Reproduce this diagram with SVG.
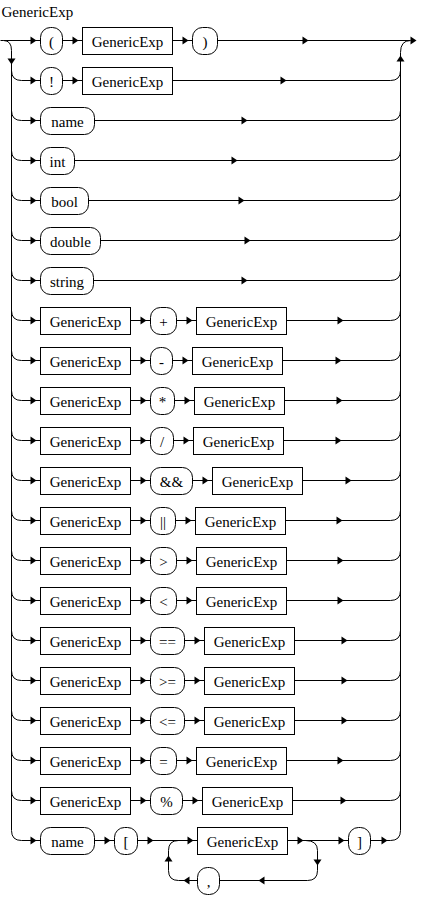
<svg xmlns="http://www.w3.org/2000/svg" width="434" height="922" viewBox="0 0 434 922">
<style>
.l{fill:none;stroke:#000;stroke-width:1}
.b{fill:#fff;stroke:#000;stroke-width:1}
.t{fill:#fff;stroke:#000;stroke-width:1}
.tx{font-family:'Liberation Serif','Times New Roman','DejaVu Serif',serif;font-size:15px;fill:#000;text-anchor:middle}
.ttl{text-anchor:start}
.a{fill:#000}
</style>
<defs>
<path id="ar" class="a" d="M-6,-4 L0,0 L-6,4 Z"/>
</defs>
<rect x="0" y="0" width="434" height="922" fill="#fff"/>
<g transform="translate(0.5,0.5)">
<g id="connectors">
<path class="l" d="M0,40 H3 Q11,40 11,50 V830"/>
<path class="l" d="M400,830 V52 Q400,40 410,40"/>
<path class="l" d="M3,40 H40 M62,40 H82 M172,40 H192 M217,40 H410"/>
<path class="l" d="M11,70 Q11,80 21,80 H40 M62,80 H82 M172,80 H390 Q400,80 400,70"/>
<path class="l" d="M11,110 Q11,120 21,120 H40 M94,120 H390 Q400,120 400,110"/>
<path class="l" d="M11,150 Q11,160 21,160 H40 M74,160 H390 Q400,160 400,150"/>
<path class="l" d="M11,190 Q11,200 21,200 H40 M88,200 H390 Q400,200 400,190"/>
<path class="l" d="M11,230 Q11,240 21,240 H40 M100,240 H390 Q400,240 400,230"/>
<path class="l" d="M11,270 Q11,280 21,280 H40 M93,280 H390 Q400,280 400,270"/>
<path class="l" d="M11,310 Q11,320 21,320 H40 M130,320 H150 M176,320 H196 M286,320 H390 Q400,320 400,310"/>
<path class="l" d="M11,350 Q11,360 21,360 H40 M130,360 H150 M172,360 H192 M282,360 H390 Q400,360 400,350"/>
<path class="l" d="M11,390 Q11,400 21,400 H40 M130,400 H150 M174,400 H194 M284,400 H390 Q400,400 400,390"/>
<path class="l" d="M11,430 Q11,440 21,440 H40 M130,440 H150 M173,440 H193 M283,440 H390 Q400,440 400,430"/>
<path class="l" d="M11,470 Q11,480 21,480 H40 M130,480 H150 M192,480 H212 M302,480 H390 Q400,480 400,470"/>
<path class="l" d="M11,510 Q11,520 21,520 H40 M130,520 H150 M175,520 H195 M285,520 H390 Q400,520 400,510"/>
<path class="l" d="M11,550 Q11,560 21,560 H40 M130,560 H150 M176,560 H196 M286,560 H390 Q400,560 400,550"/>
<path class="l" d="M11,590 Q11,600 21,600 H40 M130,600 H150 M176,600 H196 M286,600 H390 Q400,600 400,590"/>
<path class="l" d="M11,630 Q11,640 21,640 H40 M130,640 H150 M184,640 H204 M294,640 H390 Q400,640 400,630"/>
<path class="l" d="M11,670 Q11,680 21,680 H40 M130,680 H150 M184,680 H204 M294,680 H390 Q400,680 400,670"/>
<path class="l" d="M11,710 Q11,720 21,720 H40 M130,720 H150 M184,720 H204 M294,720 H390 Q400,720 400,710"/>
<path class="l" d="M11,750 Q11,760 21,760 H40 M130,760 H150 M176,760 H196 M286,760 H390 Q400,760 400,750"/>
<path class="l" d="M11,790 Q11,800 21,800 H40 M130,800 H150 M182,800 H202 M292,800 H390 Q400,800 400,790"/>
<path class="l" d="M11,830 Q11,840 21,840 H40 M94,840 H114 M137,840 H197 M287,840 H348 M370,840 H390 Q400,840 400,830"/>
<path class="l" d="M305,840 Q317,840 317,850 V870 Q317,880 307,880 H219 M197,880 H178 Q168,880 168,870 V850 Q168,840 178,840"/>
<use href="#ar" transform="translate(11,64) rotate(90)"/>
<use href="#ar" transform="translate(400,55) rotate(-90)"/>
<use href="#ar" x="36" y="40"/><use href="#ar" x="78" y="40"/><use href="#ar" x="188" y="40"/><use href="#ar" x="308" y="40"/><use href="#ar" x="416" y="40"/>
<use href="#ar" x="36" y="80"/><use href="#ar" x="78" y="80"/><use href="#ar" x="286" y="80"/>
<use href="#ar" x="36" y="120"/><use href="#ar" x="247" y="120"/>
<use href="#ar" x="36" y="160"/><use href="#ar" x="237" y="160"/>
<use href="#ar" x="36" y="200"/><use href="#ar" x="244" y="200"/>
<use href="#ar" x="36" y="240"/><use href="#ar" x="250" y="240"/>
<use href="#ar" x="36" y="280"/><use href="#ar" x="247" y="280"/>
<use href="#ar" x="36" y="320"/><use href="#ar" x="146" y="320"/><use href="#ar" x="192" y="320"/><use href="#ar" x="343" y="320"/>
<use href="#ar" x="36" y="360"/><use href="#ar" x="146" y="360"/><use href="#ar" x="188" y="360"/><use href="#ar" x="341" y="360"/>
<use href="#ar" x="36" y="400"/><use href="#ar" x="146" y="400"/><use href="#ar" x="190" y="400"/><use href="#ar" x="342" y="400"/>
<use href="#ar" x="36" y="440"/><use href="#ar" x="146" y="440"/><use href="#ar" x="189" y="440"/><use href="#ar" x="341" y="440"/>
<use href="#ar" x="36" y="480"/><use href="#ar" x="146" y="480"/><use href="#ar" x="208" y="480"/><use href="#ar" x="351" y="480"/>
<use href="#ar" x="36" y="520"/><use href="#ar" x="146" y="520"/><use href="#ar" x="191" y="520"/><use href="#ar" x="342" y="520"/>
<use href="#ar" x="36" y="560"/><use href="#ar" x="146" y="560"/><use href="#ar" x="192" y="560"/><use href="#ar" x="343" y="560"/>
<use href="#ar" x="36" y="600"/><use href="#ar" x="146" y="600"/><use href="#ar" x="192" y="600"/><use href="#ar" x="343" y="600"/>
<use href="#ar" x="36" y="640"/><use href="#ar" x="146" y="640"/><use href="#ar" x="200" y="640"/><use href="#ar" x="347" y="640"/>
<use href="#ar" x="36" y="680"/><use href="#ar" x="146" y="680"/><use href="#ar" x="200" y="680"/><use href="#ar" x="347" y="680"/>
<use href="#ar" x="36" y="720"/><use href="#ar" x="146" y="720"/><use href="#ar" x="200" y="720"/><use href="#ar" x="347" y="720"/>
<use href="#ar" x="36" y="760"/><use href="#ar" x="146" y="760"/><use href="#ar" x="192" y="760"/><use href="#ar" x="343" y="760"/>
<use href="#ar" x="36" y="800"/><use href="#ar" x="146" y="800"/><use href="#ar" x="198" y="800"/><use href="#ar" x="346" y="800"/>
<use href="#ar" x="36" y="840"/><use href="#ar" x="110" y="840"/><use href="#ar" x="153" y="840"/><use href="#ar" x="193" y="840"/><use href="#ar" x="303" y="840"/><use href="#ar" x="344" y="840"/><use href="#ar" x="387" y="840"/>
<use href="#ar" transform="translate(317,865) rotate(90)"/>
<use href="#ar" transform="translate(258,880) rotate(180)"/>
<use href="#ar" transform="translate(183,880) rotate(180)"/>
<use href="#ar" transform="translate(168,855) rotate(-90)"/>
</g>
<g id="nodes" font-family="'Liberation Serif', 'Times New Roman', 'DejaVu Serif', serif" font-size="15">
<text class="tx ttl" x="1" y="16">GenericExp</text>
<g id="r1t1"><rect class="t" x="40" y="27" width="22" height="27" rx="10"/><text class="tx" x="51" y="46">(</text></g>
<g id="r1b1"><rect class="b" x="82" y="27" width="90" height="27"/><text class="tx" x="127" y="46">GenericExp</text></g>
<g id="r1t2"><rect class="t" x="192" y="27" width="25" height="27" rx="10"/><text class="tx" x="204.5" y="46">)</text></g>
<g id="r2t1"><rect class="t" x="40" y="67" width="22" height="27" rx="10"/><text class="tx" x="51" y="86">!</text></g>
<g id="r2b1"><rect class="b" x="82" y="67" width="90" height="27"/><text class="tx" x="127" y="86">GenericExp</text></g>
<g id="r3t1"><rect class="t" x="40" y="107" width="54" height="27" rx="10"/><text class="tx" x="67" y="126">name</text></g>
<g id="r4t1"><rect class="t" x="40" y="147" width="34" height="27" rx="10"/><text class="tx" x="57" y="166">int</text></g>
<g id="r5t1"><rect class="t" x="40" y="187" width="48" height="27" rx="10"/><text class="tx" x="64" y="206">bool</text></g>
<g id="r6t1"><rect class="t" x="40" y="227" width="60" height="27" rx="10"/><text class="tx" x="70" y="246">double</text></g>
<g id="r7t1"><rect class="t" x="40" y="267" width="53" height="27" rx="10"/><text class="tx" x="66.5" y="286">string</text></g>
<g id="r8b1"><rect class="b" x="40" y="307" width="90" height="27"/><text class="tx" x="85" y="326">GenericExp</text></g>
<g id="r8t1"><rect class="t" x="150" y="307" width="26" height="27" rx="10"/><text class="tx" x="163" y="326">+</text></g>
<g id="r8b2"><rect class="b" x="196" y="307" width="90" height="27"/><text class="tx" x="241" y="326">GenericExp</text></g>
<g id="r9b1"><rect class="b" x="40" y="347" width="90" height="27"/><text class="tx" x="85" y="366">GenericExp</text></g>
<g id="r9t1"><rect class="t" x="150" y="347" width="22" height="27" rx="10"/><text class="tx" x="161" y="366">-</text></g>
<g id="r9b2"><rect class="b" x="192" y="347" width="90" height="27"/><text class="tx" x="237" y="366">GenericExp</text></g>
<g id="r10b1"><rect class="b" x="40" y="387" width="90" height="27"/><text class="tx" x="85" y="406">GenericExp</text></g>
<g id="r10t1"><rect class="t" x="150" y="387" width="24" height="27" rx="10"/><text class="tx" x="162" y="406">*</text></g>
<g id="r10b2"><rect class="b" x="194" y="387" width="90" height="27"/><text class="tx" x="239" y="406">GenericExp</text></g>
<g id="r11b1"><rect class="b" x="40" y="427" width="90" height="27"/><text class="tx" x="85" y="446">GenericExp</text></g>
<g id="r11t1"><rect class="t" x="150" y="427" width="23" height="27" rx="10"/><text class="tx" x="161.5" y="446">/</text></g>
<g id="r11b2"><rect class="b" x="193" y="427" width="90" height="27"/><text class="tx" x="238" y="446">GenericExp</text></g>
<g id="r12b1"><rect class="b" x="40" y="467" width="90" height="27"/><text class="tx" x="85" y="486">GenericExp</text></g>
<g id="r12t1"><rect class="t" x="150" y="467" width="42" height="27" rx="10"/><text class="tx" x="171" y="486">&amp;&amp;</text></g>
<g id="r12b2"><rect class="b" x="212" y="467" width="90" height="27"/><text class="tx" x="257" y="486">GenericExp</text></g>
<g id="r13b1"><rect class="b" x="40" y="507" width="90" height="27"/><text class="tx" x="85" y="526">GenericExp</text></g>
<g id="r13t1"><rect class="t" x="150" y="507" width="25" height="27" rx="10"/><text class="tx" x="162.5" y="526">||</text></g>
<g id="r13b2"><rect class="b" x="195" y="507" width="90" height="27"/><text class="tx" x="240" y="526">GenericExp</text></g>
<g id="r14b1"><rect class="b" x="40" y="547" width="90" height="27"/><text class="tx" x="85" y="566">GenericExp</text></g>
<g id="r14t1"><rect class="t" x="150" y="547" width="26" height="27" rx="10"/><text class="tx" x="163" y="566">&gt;</text></g>
<g id="r14b2"><rect class="b" x="196" y="547" width="90" height="27"/><text class="tx" x="241" y="566">GenericExp</text></g>
<g id="r15b1"><rect class="b" x="40" y="587" width="90" height="27"/><text class="tx" x="85" y="606">GenericExp</text></g>
<g id="r15t1"><rect class="t" x="150" y="587" width="26" height="27" rx="10"/><text class="tx" x="163" y="606">&lt;</text></g>
<g id="r15b2"><rect class="b" x="196" y="587" width="90" height="27"/><text class="tx" x="241" y="606">GenericExp</text></g>
<g id="r16b1"><rect class="b" x="40" y="627" width="90" height="27"/><text class="tx" x="85" y="646">GenericExp</text></g>
<g id="r16t1"><rect class="t" x="150" y="627" width="34" height="27" rx="10"/><text class="tx" x="167" y="646">==</text></g>
<g id="r16b2"><rect class="b" x="204" y="627" width="90" height="27"/><text class="tx" x="249" y="646">GenericExp</text></g>
<g id="r17b1"><rect class="b" x="40" y="667" width="90" height="27"/><text class="tx" x="85" y="686">GenericExp</text></g>
<g id="r17t1"><rect class="t" x="150" y="667" width="34" height="27" rx="10"/><text class="tx" x="167" y="686">&gt;=</text></g>
<g id="r17b2"><rect class="b" x="204" y="667" width="90" height="27"/><text class="tx" x="249" y="686">GenericExp</text></g>
<g id="r18b1"><rect class="b" x="40" y="707" width="90" height="27"/><text class="tx" x="85" y="726">GenericExp</text></g>
<g id="r18t1"><rect class="t" x="150" y="707" width="34" height="27" rx="10"/><text class="tx" x="167" y="726">&lt;=</text></g>
<g id="r18b2"><rect class="b" x="204" y="707" width="90" height="27"/><text class="tx" x="249" y="726">GenericExp</text></g>
<g id="r19b1"><rect class="b" x="40" y="747" width="90" height="27"/><text class="tx" x="85" y="766">GenericExp</text></g>
<g id="r19t1"><rect class="t" x="150" y="747" width="26" height="27" rx="10"/><text class="tx" x="163" y="766">=</text></g>
<g id="r19b2"><rect class="b" x="196" y="747" width="90" height="27"/><text class="tx" x="241" y="766">GenericExp</text></g>
<g id="r20b1"><rect class="b" x="40" y="787" width="90" height="27"/><text class="tx" x="85" y="806">GenericExp</text></g>
<g id="r20t1"><rect class="t" x="150" y="787" width="32" height="27" rx="10"/><text class="tx" x="166" y="806">%</text></g>
<g id="r20b2"><rect class="b" x="202" y="787" width="90" height="27"/><text class="tx" x="247" y="806">GenericExp</text></g>
<g id="r21t1"><rect class="t" x="40" y="827" width="54" height="27" rx="10"/><text class="tx" x="67" y="846">name</text></g>
<g id="r21t2"><rect class="t" x="114" y="827" width="23" height="27" rx="10"/><text class="tx" x="125.5" y="846">[</text></g>
<g id="r21b1"><rect class="b" x="197" y="827" width="90" height="27"/><text class="tx" x="242" y="846">GenericExp</text></g>
<g id="r21t3"><rect class="t" x="348" y="827" width="22" height="27" rx="10"/><text class="tx" x="359" y="846">]</text></g>
<g id="r21t4"><rect class="t" x="197" y="867" width="22" height="27" rx="10"/><text class="tx" x="208" y="886">,</text></g>
</g>
</g>
</svg>
